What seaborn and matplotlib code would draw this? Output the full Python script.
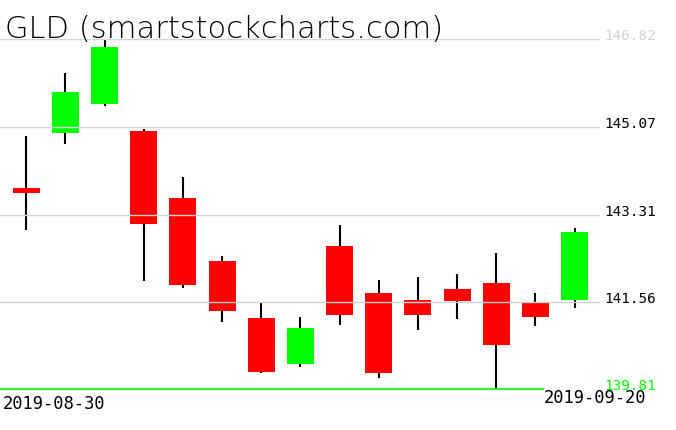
import numpy as np
import pandas as pd
import matplotlib
matplotlib.use('Agg')
import matplotlib.pyplot as plt
import seaborn as sns

# GLD daily candles, 2019-08-30 .. 2019-09-20
dates = ['2019-08-30', '2019-09-03', '2019-09-04', '2019-09-05', '2019-09-06',
         '2019-09-09', '2019-09-10', '2019-09-11', '2019-09-12', '2019-09-13',
         '2019-09-16', '2019-09-17', '2019-09-18', '2019-09-19', '2019-09-20']
opens = [143.84, 144.94, 145.52, 144.98, 143.64, 142.38, 141.24, 140.32, 142.68, 141.74,
         141.60, 141.82, 141.94, 141.56, 141.60]
highs = [144.88, 146.14, 146.82, 145.02, 144.06, 142.47, 141.54, 141.26, 143.10, 142.00,
         142.06, 142.12, 142.54, 141.74, 143.04]
lows = [143.00, 144.72, 145.48, 141.98, 141.84, 141.16, 140.14, 140.26, 141.10, 140.04,
        141.00, 141.21, 139.81, 141.08, 141.44]
closes = [143.74, 145.76, 146.66, 143.12, 141.90, 141.38, 140.16, 141.04, 141.30, 140.14,
          141.30, 141.58, 140.70, 141.26, 142.96]
levels = [146.82, 145.07, 143.31, 141.56, 139.81]

df = pd.DataFrame({'Date': dates, 'Open': opens, 'High': highs, 'Low': lows, 'Close': closes})
df['x'] = np.arange(len(df))
df['up'] = df['Close'] >= df['Open']

sns.set_theme(style='white')
fig = plt.figure(figsize=(6.76, 4.31), dpi=100)
ax = fig.add_axes([0, 40.7 / 431, 600 / 676, 350 / 431])
sns.despine(ax=ax, left=True, bottom=True, right=True, top=True)

# wicks
ax.vlines(df['x'], df['Low'], df['High'], color='black', lw=1.5, zorder=2, clip_on=False)
# bodies
colors = np.where(df['up'], '#00ff00', '#ff0000')
body_lo = np.minimum(df['Open'], df['Close'])
body_h = np.abs(df['Close'] - df['Open'])
ax.bar(df['x'], body_h, bottom=body_lo, width=0.69, color=colors, zorder=3, linewidth=0)

# grid lines (drawn over the bodies) and the green low line
for lv in levels[:-1]:
    ax.axhline(lv, color='#d3d3d3', lw=1.0, zorder=4)
ax.axhline(levels[-1], color='#00ff00', lw=1.2, zorder=4, clip_on=False)

ax.set_xlim(-0.672, 14.65)
ax.set_ylim(levels[-1], levels[0])
ax.set_xticks([])
ax.set_yticks([])

# price labels on the right
ytr = ax.get_yaxis_transform()
lab_colors = ['#d3d3d3', 'black', 'black', 'black', '#00ff00']
for lv, c in zip(levels[:-1], lab_colors[:-1]):
    ax.text(1.008, lv, f'{lv:.2f}', transform=ytr, ha='left', va='baseline',
            fontsize=10.4, family='DejaVu Sans Mono', color=c, clip_on=False)

# date labels
fig.text(3 / 676, 1 - 395 / 431, dates[0], ha='left', va='top', fontsize=12.3,
         family='DejaVu Sans Mono', color='black')
fig.text(646 / 676, 1 - 389 / 431, dates[-1], ha='right', va='top', fontsize=12.3,
         family='DejaVu Sans Mono', color='black', zorder=3,
         bbox=dict(facecolor='white', edgecolor='none', pad=0))
# lowest price label sits on top of the right date
fig.text(1.008, levels[-1], f'{levels[-1]:.2f}', transform=ytr, ha='left', va='baseline',
         fontsize=10.4, family='DejaVu Sans Mono', color=lab_colors[-1], zorder=5)

# title
fig.text(5 / 676, 1 - 38 / 431, 'GLD (smartstockcharts.com)', ha='left', va='baseline',
         fontsize=22, family='DejaVu Sans', fontweight='light', color='black')

fig.savefig('out.png', dpi=100, facecolor='white')
